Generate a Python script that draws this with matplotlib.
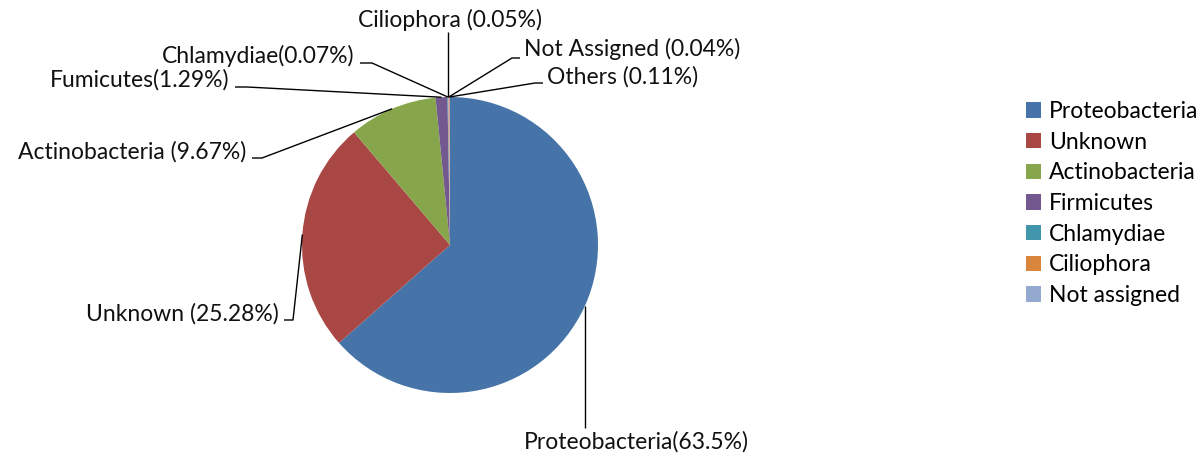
import numpy as np
import matplotlib
matplotlib.use("Agg")
import matplotlib.pyplot as plt
from matplotlib.patches import Patch

# phylum composition (percent)
phyla = ["Proteobacteria", "Unknown", "Actinobacteria", "Firmicutes",
         "Chlamydiae", "Ciliophora", "Not assigned", "Others"]
shares = [63.5, 25.28, 9.67, 1.29, 0.07, 0.05, 0.04, 0.11]
colors = ["#4674A9", "#A84744", "#87A64B", "#72588F",
          "#4196AB", "#D9853B", "#93A9CF", "#D09290"]
label_texts = ["Proteobacteria(63.5%)", "Unknown (25.28%)",
               "Actinobacteria (9.67%)", "Fumicutes(1.29%)",
               "Chlamydiae(0.07%)", "Ciliophora (0.05%)",
               "Not Assigned (0.04%)", "Others (0.11%)"]
legend_count = 7

W, H = 1201, 462
FONT = "Lato"
FS = 16.5

# label layout in pixel coords: text x, text y, ha, leader knee points
layout = [
    (636, 442, "center", [(None, 428)]),
    (279, 314, "right", [(293, 320), (284, 320)]),
    (246, 152, "right", [(262, 158), (252, 158)]),
    (229, 80, "right", [(247, 87), (235, 87)]),
    (354, 56, "right", [(372, 63), (360, 63)]),
    (450, 20, "center", [(None, 32)]),
    (524, 49, "left", [(512, 58), (520, 58)]),
    (547, 77, "left", [(535, 83), (543, 83)]),
]


def py(y):
    return H - y


fig = plt.figure(figsize=(W / 100, H / 100), dpi=100)
ax = fig.add_axes([0, 0, 1, 1])

cx, cy, r = 450, py(245), 148
wedges, _ = ax.pie(shares, colors=colors, startangle=90, counterclock=False,
                   center=(cx, cy), radius=r, frame=True,
                   wedgeprops=dict(linewidth=0))
ax.set_xlim(0, W)
ax.set_ylim(0, H)
ax.axis("off")

for w, txt, (tx, ty, ha, knees) in zip(wedges, label_texts, layout):
    mid = np.radians((w.theta1 + w.theta2) / 2)
    wx, wy = cx + r * np.cos(mid), cy + r * np.sin(mid)
    xs, ys = [wx], [wy]
    for kx, ky in knees:
        xs.append(wx if kx is None else kx)
        ys.append(py(ky))
    ax.plot(xs, ys, color="black", lw=1.0, solid_capstyle="butt")
    ax.text(tx, py(ty), txt, ha=ha, va="center", fontsize=FS,
            family=FONT, color="#111111")

handles = [Patch(facecolor=c, edgecolor="none") for c in colors[:legend_count]]
fig.legend(handles, phyla[:legend_count], loc="upper left",
           bbox_to_anchor=(1017 / W, 1 - 92 / H), frameon=False,
           prop={"family": FONT, "size": FS}, handlelength=0.65,
           handleheight=0.65, handletextpad=0.35, labelspacing=0.42,
           borderaxespad=0)

fig.savefig("out.png", dpi=100)
